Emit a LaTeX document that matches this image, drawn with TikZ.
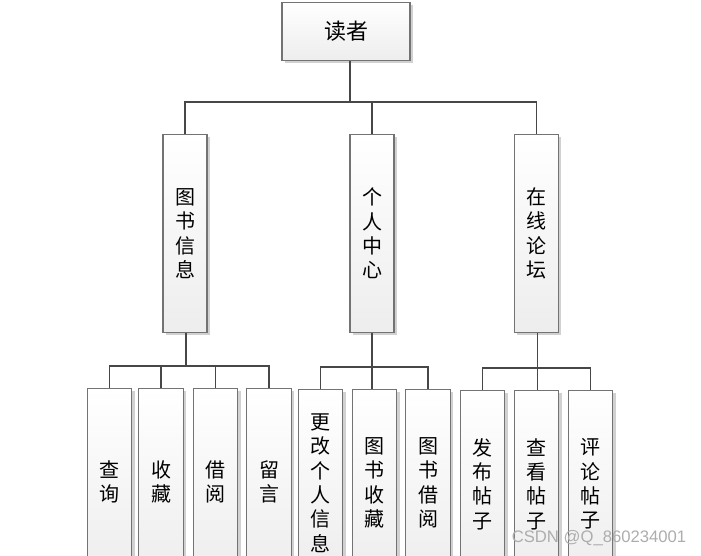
\documentclass[tikz,border=0pt]{standalone}
\usepackage{fontspec}
\newfontfamily\cjk{Noto Sans CJK SC}
\newfontfamily\wmfont{Liberation Sans}
\usetikzlibrary{shadows}

\begin{document}
\begin{tikzpicture}[x=0.75pt, y=-0.75pt,
 conn/.style = {draw=black!72, line width=1.1pt},
  box/.style args = {#1/#2}{%
      rectangle, draw=black!55, line width=0.9pt,
      top color=white, bottom color=black!7,
      drop shadow={shadow xshift=2pt, shadow yshift=-2pt,
                   fill=black!18, opacity=1},
      minimum width=#1, minimum height=#2, inner sep=0pt,
      align=center, font=\cjk\fontsize{15}{18.3}\selectfont}
                    ]
\useasboundingbox (0,0) rectangle (701,556);
\clip (0,0) rectangle (701,556);
%
\node(reader) [box=96pt/44pt, font=\cjk\fontsize{16.5}{18}\selectfont] at (346,31.5) {读者};
%
\node(info)  [box=33pt/148pt] at (185,233.5) {图\\书\\信\\息};
\node(mine)  [box=33pt/148pt] at (372,233.5) {个\\人\\中\\心};
\node(forum) [box=33pt/148pt] at (536.5,233.5) {在\\线\\论\\坛};
%
\node(q1) [box=33.5pt/140pt] at (109.5,482) {查\\询};
\node(q2) [box=33.5pt/140pt] at (161,482)   {收\\藏};
\node(q3) [box=33.5pt/140pt] at (215.5,482) {借\\阅};
\node(q4) [box=33.5pt/140pt] at (269,482)   {留\\言};
%
\node(p1) [box=33.5pt/140pt] at (320.5,483) {更\\改\\个\\人\\信\\息};
\node(p2) [box=33.5pt/140pt] at (374.5,483) {图\\书\\收\\藏};
\node(p3) [box=33.5pt/140pt] at (428,483)   {图\\书\\借\\阅};
%
\node(f1) [box=33.5pt/140pt] at (482.5,484) {发\\布\\帖\\子};
\node(f2) [box=33.5pt/140pt] at (536.5,484) {查\\看\\帖\\子};
\node(f3) [box=33.5pt/140pt] at (590.5,484) {评\\论\\帖\\子};
%
\coordinate (top) at (350,102);
\coordinate (g1)  at (186,366);
\coordinate (g2)  at (372,367);
\coordinate (g3)  at (537.5,368);
%
\draw[conn] (reader.south -| top) -- (top);
\draw[conn] (info.north) |- (top) -| (forum.north);
\draw[conn] (mine.north) -- (mine.north |- top);
%
\draw[conn] (info.south -| g1) -- (g1);
\draw[conn] (q1.north) |- (g1) -| (q4.north);
\draw[conn] (q2.north) -- (q2.north |- g1);
\draw[conn] (q3.north) -- (q3.north |- g1);
%
\draw[conn] (mine.south -| g2) -- (g2 |- p2.north);
\draw[conn] (p1.north) |- (g2) -| (p3.north);
%
\draw[conn] (forum.south -| g3) -- (g3 |- f2.north);
\draw[conn] (f1.north) |- (g3) -| (f3.north);
%
\node(mark) [font=\wmfont\fontsize{12.5}{14}\selectfont, text=black!32] at (599,538) {CSDN @Q\_860234001};
\end{tikzpicture}
\end{document}
